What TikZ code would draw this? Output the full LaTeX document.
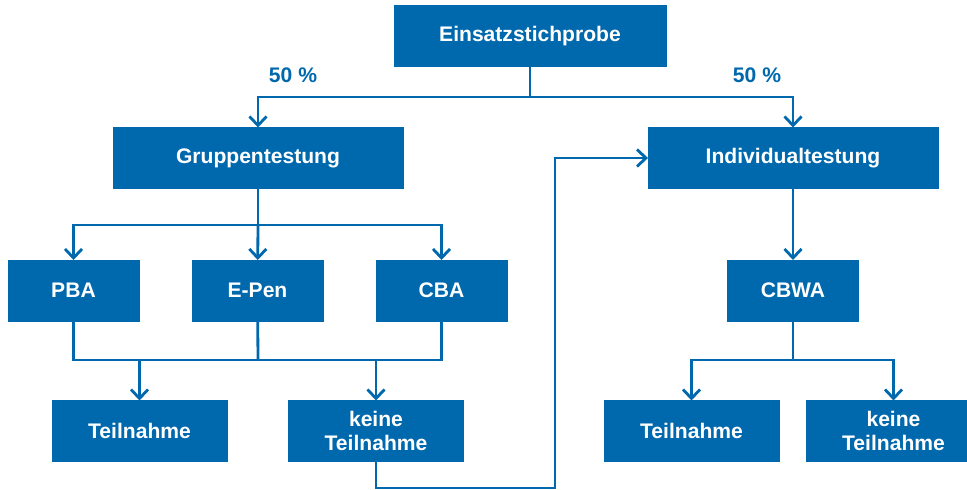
\documentclass[tikz,border=0pt]{standalone}
\usepackage{fontspec}
\setmainfont{Liberation Sans}
\usetikzlibrary{arrows.meta}
\definecolor{boxblue}{RGB}{0,104,173}

\begin{document}
\begin{tikzpicture}[x=0.02cm, y=-0.02cm,
    box/.style = {draw=boxblue, fill=boxblue, text=white, align=center,
        font=\fontsize{12}{13.5}\selectfont\bfseries,
        minimum height=1.22cm, inner sep=2pt, outer sep=0pt},
    wide/.style = {box, minimum width=5.8cm},
    small/.style = {box, minimum width=2.62cm},
    result/.style = {box, minimum width=3.5cm},
    line/.style = {draw=boxblue, line width=1.6pt},
    arr/.style = {line, -{Straight Barb[length=0.18cm, width=0.34cm, line width=1.6pt]}},
    pct/.style = {text=boxblue, font=\fontsize{12}{14}\selectfont\bfseries}]
        \useasboundingbox (0,0) rectangle (967,490);

        \node[box, minimum width=5.44cm] at (530,36) (E) {Einsatzstichprobe};
        \node[wide] at (258,158) (G) {Gruppentestung};
        \node[wide] at (793,158) (I) {Individualtestung};
        \node[small] at (73.5,290.5) (PBA) {PBA};
        \node[small] at (257.5,290.5) (EPen) {E-Pen};
        \node[small] at (441.5,290.5) (CBA) {CBA};
        \node[small] at (793,290.5) (CBWA) {CBWA};
        \node[result] at (139.5,431) (T1) {Teilnahme};
        \node[result] at (376,431) (K1) {keine\\Teilnahme};
        \node[result] at (691.5,431) (T2) {Teilnahme};
        \node[result] at (893.5,431) (K2) {keine\\Teilnahme};

        \node[pct] at (293,75) (p1) {50 \%};
        \node[pct] at (757,75) (p2) {50 \%};

        % split points
        \coordinate (s1) at (530,97);
        \coordinate (s2) at (258,225);
        \coordinate (s3) at (258,360);
        \coordinate (j1) at (139.5,360);
        \coordinate (j2) at (376,360);
        \coordinate (s4) at (793,360);
        \coordinate (r1) at (376,488);
        \coordinate (r2) at (555,158);

        \draw[line] (E) -- (s1);
        \draw[arr] (s1) -| (G);
        \draw[arr] (s1) -| (I);

        \draw[line] (G) -- (s2);
        \draw[arr] (s2) -| (PBA);
        \draw[arr] (s2) -- (EPen);
        \draw[arr] (s2) -| (CBA);

        \draw[line] (PBA) |- (s3);
        \draw[line] (EPen) -- (s3);
        \draw[line] (CBA) |- (s3);
        \draw[arr] (j1) -- (T1);
        \draw[arr] (j2) -- (K1);

        \draw[arr] (K1) -- (r1) -| (r2) -- (I);

        \draw[arr] (I) -- (CBWA);
        \draw[line] (CBWA) -- (s4);
        \draw[arr] (s4) -| (T2);
        \draw[arr] (s4) -| (K2);
\end{tikzpicture}
\end{document}
